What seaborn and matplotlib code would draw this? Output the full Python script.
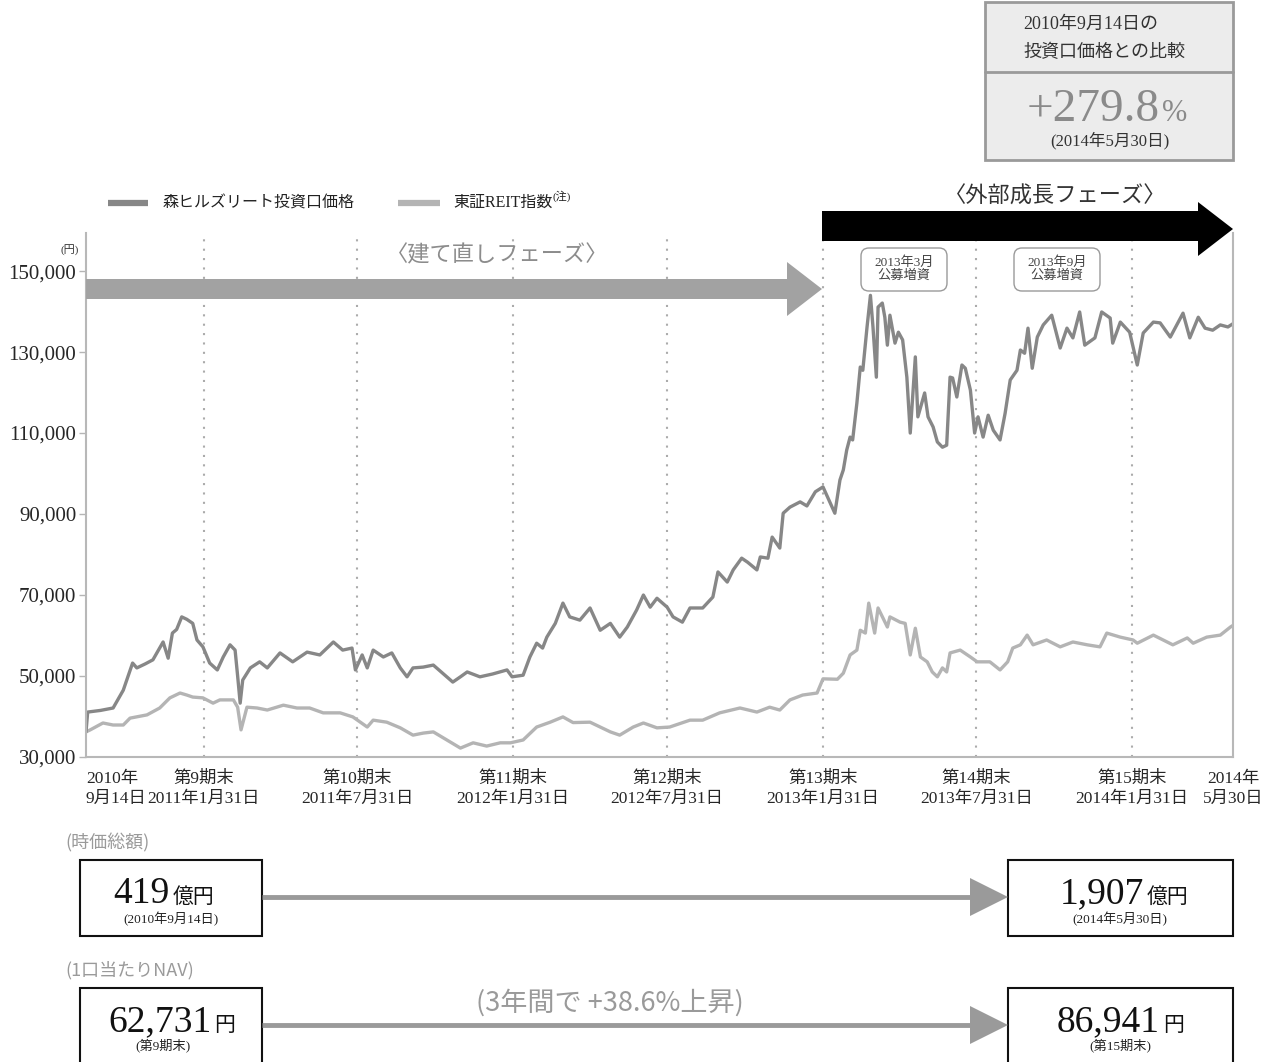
import numpy as np
import pandas as pd
import seaborn as sns
import matplotlib.pyplot as plt
from matplotlib.patches import Rectangle, Polygon, FancyBboxPatch

# base date of the comparison and end of chart
base_date = pd.Timestamp('2010-09-14')
end_date = pd.Timestamp('2014-05-30')

# Mori Hills REIT unit price (days since base date, yen)
mori_days = [0, 2, 17, 32, 44, 55, 60, 70, 79, 91, 97, 102, 107, 113, 119, 126, 131, 138, 146, 155,
             162, 170, 176, 179, 182, 185, 194, 205, 214, 229, 244, 261, 276, 292, 303, 314, 318, 326, 332, 339,
             351, 361, 371, 379, 386, 398, 410, 421, 433, 442, 450, 465, 480, 497, 503, 516, 524, 532, 539, 544,
             554, 563, 571, 583, 595, 607, 619, 630, 639, 650, 658, 666, 674, 686, 693, 704, 713, 728, 740, 746,
             757, 764, 774, 781, 792, 796, 805, 810, 819, 823, 831, 843, 851, 861, 870, 878, 884, 890, 894, 898,
             902, 905, 910, 914, 917, 922, 926, 929, 933, 935, 940, 943, 946, 949, 955, 959, 964, 969, 973, 979,
             982, 990, 994, 1000, 1005, 1011, 1016, 1020, 1023, 1028, 1034, 1038, 1044, 1049, 1053, 1059, 1065, 1071, 1079, 1085,
             1091, 1099, 1103, 1108, 1112, 1117, 1123, 1130, 1140, 1150, 1158, 1165, 1173, 1179, 1191, 1199, 1209, 1212, 1221, 1232,
             1241, 1248, 1260, 1268, 1280, 1295, 1303, 1313, 1321, 1330, 1339, 1348, 1354]
mori_price = [36200, 41100, 41500, 42100, 46500, 53200, 52000, 53000, 54000, 58400, 54400, 60600, 61500, 64600, 64000, 63000, 58900, 57200, 53200, 51500,
              54700, 57700, 56400, 50000, 43300, 49000, 52000, 53500, 52000, 55700, 53500, 55900, 55200, 58400, 56400, 56900, 51500, 55200, 52000, 56400,
              54700, 55700, 52000, 49800, 52000, 52200, 52700, 50700, 48500, 49800, 51000, 49800, 50500, 51500, 49800, 50200, 54700, 58100, 56900, 59600,
              63000, 68000, 64600, 63800, 66800, 61300, 63000, 59600, 62100, 66300, 70000, 67000, 69200, 67000, 64600, 63300, 66800, 66800, 69500, 75700,
              73200, 76200, 79100, 78100, 76200, 79400, 79100, 84300, 81600, 90200, 91700, 93000, 92000, 95500, 96700, 93000, 90200, 98400, 100900, 105800,
              109000, 108300, 117400, 126300, 125500, 136200, 144000, 136200, 123800, 141100, 142100, 138600, 131700, 139100, 132200, 134900, 133000, 123800, 110000, 128800,
              114000, 119900, 114000, 111500, 107800, 106500, 107000, 123800, 123600, 118900, 126800, 126000, 120600, 110000, 114000, 109000, 114400, 110700, 108300, 114900,
              123100, 125500, 130500, 129700, 135900, 126000, 133700, 136700, 139100, 131000, 135900, 133500, 139900, 131700, 133500, 139900, 138400, 132200, 137400, 134900,
              126800, 134700, 137400, 137200, 133700, 139600, 133500, 138600, 135900, 135400, 136700, 136200, 137000]

# TSE REIT index (scaled to the unit price on the base date)
reit_days = [0, 5, 20, 32, 44, 52, 72, 87, 99, 111, 119, 126, 138, 150, 158, 174, 179, 183, 190, 202,
             214, 233, 249, 264, 280, 300, 315, 332, 339, 355, 371, 386, 398, 410, 426, 442, 457, 473, 489, 501,
             516, 532, 548, 563, 575, 595, 607, 619, 630, 646, 658, 674, 689, 713, 728, 748, 772, 792, 807, 819,
             831, 846, 863, 870, 887, 894, 902, 910, 914, 920, 924, 931, 935, 946, 949, 961, 967, 973, 979, 985,
             993, 999, 1005, 1011, 1016, 1020, 1032, 1044, 1052, 1067, 1079, 1088, 1094, 1103, 1111, 1118, 1134, 1150, 1165, 1182,
             1197, 1205, 1221, 1236, 1241, 1260, 1283, 1300, 1307, 1323, 1339, 1351, 1354]
reit_price = [36200, 36700, 38400, 37900, 37900, 39600, 40400, 42100, 44600, 45800, 45300, 44800, 44600, 43300, 44100, 44100, 42300, 36700, 42300, 42100,
              41600, 42800, 42100, 42100, 40900, 40900, 39900, 37400, 39100, 38600, 37200, 35400, 35900, 36200, 34200, 32200, 33500, 32700, 33500, 33500,
              34200, 37400, 38600, 39900, 38500, 38600, 37400, 36200, 35400, 37400, 38400, 37200, 37400, 39100, 39100, 40900, 42100, 41100, 42300, 41600,
              44100, 45300, 45800, 49300, 49200, 50700, 55200, 56400, 61300, 60600, 68000, 60600, 66800, 62100, 64600, 63300, 63000, 55200, 61800, 54700,
              53500, 51000, 49800, 52000, 51000, 55700, 56400, 54700, 53500, 53500, 51500, 53500, 56900, 57700, 60100, 57700, 58900, 57200, 58400, 57700,
              57200, 60600, 59600, 58900, 58100, 60100, 57700, 59400, 58100, 59600, 60100, 62100, 62500]

series_names = ['森ヒルズリート投資口価格', '東証REIT指数']
series_colors = ['#878787', '#b4b4b4']

# fiscal period ends (dotted lines / tick labels)
period_ends = ['2011-01-31', '2011-07-31', '2012-01-31', '2012-07-31', '2013-01-31', '2013-07-31', '2014-01-31']
period_names = ['第9期末', '第10期末', '第11期末', '第12期末', '第13期末', '第14期末', '第15期末']
period_dates_txt = ['2011年1月31日', '2011年7月31日', '2012年1月31日', '2012年7月31日',
                    '2013年1月31日', '2013年7月31日', '2014年1月31日']
y_ticks = [30000, 50000, 70000, 90000, 110000, 130000, 150000]

# market cap / NAV panel values
mcap_start, mcap_end = '419', '1,907'
nav_start, nav_end = '62,731', '86,941'
nav_growth = '(3年間で +38.6%上昇)'
price_growth = '+279.8'

# ---- build long-form data for seaborn
df_mori = pd.DataFrame({'date': base_date + pd.to_timedelta(mori_days, unit='D'),
                        'price': mori_price, 'series': series_names[0]})
df_reit = pd.DataFrame({'date': base_date + pd.to_timedelta(reit_days, unit='D'),
                        'price': reit_price, 'series': series_names[1]})
df = pd.concat([df_reit, df_mori], ignore_index=True)

sns.set_theme(style='white')
plt.rcParams['font.family'] = ['Liberation Serif', 'Noto Sans CJK JP']
CJK = ['Noto Sans CJK JP', 'DejaVu Sans']

W, H = 1273, 1062
fig = plt.figure(figsize=(W / 100, H / 100), dpi=100)
ax = fig.add_axes([86 / W, (H - 757) / H, (1233 - 86) / W, (757 - 233) / H])

sns.lineplot(data=df, x='date', y='price', hue='series',
             palette=dict(zip(series_names, series_colors)),
             hue_order=[series_names[1], series_names[0]],
             linewidth=2.4, estimator=None, legend=False, ax=ax)

for d in period_ends:
    ax.axvline(pd.Timestamp(d), color='#ababab', ls=(0, (1, 3.5)), lw=1.5, zorder=0)

ax.set_xlim(base_date, end_date)
ax.set_ylim(30000, 159400)
ax.set_xlabel('')
ax.set_ylabel('')

ax.set_yticks(y_ticks)
ax.set_yticklabels([f'{v:,}' for v in y_ticks], fontsize=15)
ax.tick_params(axis='y', length=5, width=1, color='#b5b5b5', pad=2, left=True)

xt = [base_date] + [pd.Timestamp(d) for d in period_ends] + [end_date]
xl = ['2010年\n9月14日'] + [f'{n}\n{t}' for n, t in zip(period_names, period_dates_txt)] + ['2014年\n5月30日']
ax.set_xticks(xt)
labels = ax.set_xticklabels(xl, fontsize=12.5, linespacing=1.3)
labels[0].set_horizontalalignment('left')
ax.tick_params(axis='x', length=0, pad=10)

for s in ['left', 'right', 'bottom']:
    ax.spines[s].set_color('#b8b8b8')
    ax.spines[s].set_linewidth(1.5)
ax.spines['top'].set_visible(False)

# ---- overlay for the infographic parts (pixel layout)
ov = fig.add_axes([0, 0, 1, 1])
ov.set_xlim(0, W)
ov.set_ylim(H, 0)
ov.axis('off')

ov.text(70, 250, '(円)', fontsize=8, ha='center', va='center', color='#333333')

# legend
ov.plot([108, 148], [203, 203], color=series_colors[0], lw=4.5, solid_capstyle='butt')
ov.text(163, 203, series_names[0], fontsize=11.5, va='center', family=CJK, color='#222222')
ov.plot([398, 440], [203, 203], color=series_colors[1], lw=4.5, solid_capstyle='butt')
t = ov.text(453, 203, series_names[1], fontsize=11.5, va='center', color='#222222')
ov.annotate('(注)', xy=(1, 0.55), xycoords=t, fontsize=8, va='bottom', ha='left', color='#222222')

# phase arrows
ov.add_patch(Polygon([(86, 279), (787, 279), (787, 262), (822, 289), (787, 316), (787, 299), (86, 299)],
                     closed=True, color='#a2a2a2', lw=0))
ov.text(497, 255, '〈建て直しフェーズ〉', fontsize=16, ha='center', va='center', family=CJK, color='#8c8c8c')
ov.add_patch(Polygon([(822, 211), (1198, 211), (1198, 202), (1233, 229), (1198, 256), (1198, 241), (822, 241)],
                     closed=True, color='#000000', lw=0))
ov.text(1055, 196, '〈外部成長フェーズ〉', fontsize=16, ha='center', va='center', family=CJK, color='#333333')

# offering call-outs
for cx, txt in [(904, '2013年3月\n公募増資'), (1057, '2013年9月\n公募増資')]:
    ov.add_patch(FancyBboxPatch((cx - 43, 248), 86, 43, boxstyle='round,pad=0,rounding_size=8',
                                fc='white', ec='#9a9a9a', lw=1))
    ov.text(cx, 269, txt, fontsize=9.5, ha='center', va='center', linespacing=1.1, color='#444444')

# comparison box at the top right
ov.add_patch(Rectangle((985, 2), 248, 158, fc='#ececec', ec='#9a9a9a', lw=2))
ov.plot([985, 1233], [72, 72], color='#9a9a9a', lw=2)
ov.text(1023, 24, '2010年9月14日の', fontsize=13, va='center', color='#333333')
ov.text(1023, 52, '投資口価格との比較', fontsize=13, va='center', family=CJK, color='#333333')
ov.text(1160, 121, price_growth, fontsize=34, ha='right', va='baseline', color='#8a8a8a')
ov.text(1162, 121, '%', fontsize=22, ha='left', va='baseline', color='#8a8a8a')
ov.text(1110, 141, '(2014年5月30日)', fontsize=12, ha='center', va='center', color='#333333')

# market cap / NAV panel
ov.text(65, 843, '(時価総額)', fontsize=13, va='center', family=CJK, color='#9a9a9a')
ov.text(65, 970, '(1口当たりNAV)', fontsize=13, va='center', family=CJK, color='#9a9a9a')

for (x0, y0, w, h) in [(80, 860, 182, 76), (1008, 860, 225, 76), (80, 988, 182, 90), (1008, 988, 225, 90)]:
    ov.add_patch(Rectangle((x0, y0), w, h, fc='white', ec='#111111', lw=1.5))

for yy in [897, 1025]:
    ov.plot([262, 972], [yy, yy], color='#9a9a9a', lw=3.5, solid_capstyle='butt')
    ov.add_patch(Polygon([(970, yy - 19), (1008, yy), (970, yy + 19)], closed=True, color='#9a9a9a', lw=0))

ov.text(610, 1003, nav_growth, fontsize=19.5, ha='center', va='center', family=CJK, color='#9a9a9a')

num_style = dict(fontsize=27, va='baseline', color='#111111')
unit_style = dict(fontsize=15, va='baseline', color='#111111')
ov.text(170, 903, mcap_start, ha='right', **num_style)
ov.text(173, 903, '億円', ha='left', **unit_style)
ov.text(171, 919, '(2010年9月14日)', fontsize=9.5, ha='center', va='center', color='#222222')
ov.text(1144, 903, mcap_end, ha='right', **num_style)
ov.text(1147, 903, '億円', ha='left', **unit_style)
ov.text(1120, 919, '(2014年5月30日)', fontsize=9.5, ha='center', va='center', color='#222222')
ov.text(212, 1031, nav_start, ha='right', **num_style)
ov.text(214, 1031, '円', ha='left', **unit_style)
ov.text(163, 1045, '(第9期末)', fontsize=9.5, ha='center', va='center', color='#222222')
ov.text(1160, 1031, nav_end, ha='right', **num_style)
ov.text(1163, 1031, '円', ha='left', **unit_style)
ov.text(1120, 1045, '(第15期末)', fontsize=9.5, ha='center', va='center', color='#222222')

fig.savefig('out.png', dpi=100)
